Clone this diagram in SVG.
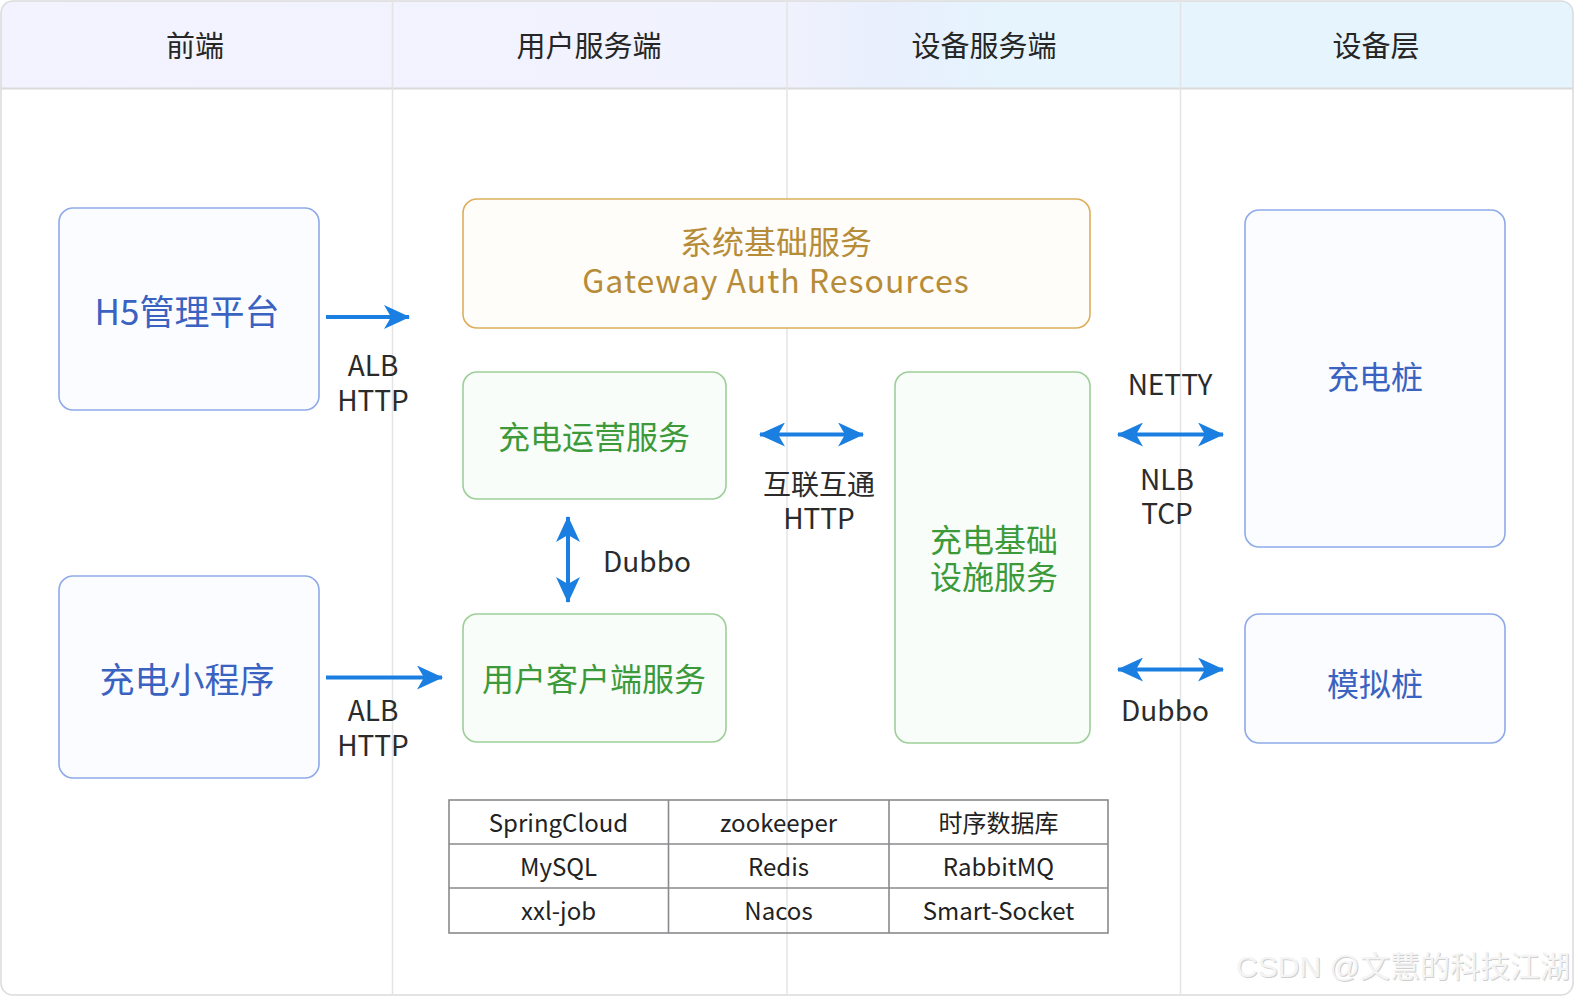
<svg xmlns="http://www.w3.org/2000/svg" width="1574" height="997" viewBox="0 0 1574 997">
<style>
text{font-family:"Noto Sans CJK SC","Noto Sans",sans-serif;text-anchor:middle;dominant-baseline:central}
.hd{font-size:29px;fill:#262626}
.blue rect{fill:#fbfcff;stroke:#8eaae8;stroke-width:1.6}
.blue text{fill:#3a62c0;font-size:35px}
.blue text.s{font-size:32px}
.green rect{fill:#f9fdf9;stroke:#9dcf98;stroke-width:1.6}
.green text{fill:#3c9a3a;font-size:32px}
.gold rect{fill:#fffdf9;stroke:#dcae5c;stroke-width:1.6}
.gold text{fill:#b68c38;font-size:32px}
.lbl{font-size:28px;fill:#2b2b2b}
.conn line{stroke:#1a7fe0;stroke-width:4}
.tbl line,.tbl rect{stroke:#8a8a8e;stroke-width:1.6;fill:none}
.tbl text{font-size:24px;fill:#222}
.div{stroke:#e4e4e4;stroke-width:1.5}
</style>
<defs>
<linearGradient id="hg" x1="0" y1="0" x2="1" y2="0">
<stop offset="0" stop-color="#f2f3fe"/>
<stop offset="0.5" stop-color="#f0f2fd"/>
<stop offset="0.56" stop-color="#e9effd"/>
<stop offset="0.64" stop-color="#e5f4fd"/>
<stop offset="1" stop-color="#e5f4fd"/>
</linearGradient>
<marker id="ah" viewBox="0 0 26 24" refX="25" refY="12" markerWidth="26" markerHeight="24" markerUnits="userSpaceOnUse" orient="auto-start-reverse">
<path d="M0,0 L26,12 L0,24 L7,12 Z" fill="#1a7fe0"/>
</marker>
</defs>
<rect x="0" y="0" width="1574" height="997" fill="#ffffff"/>
<g id="frame">
<path d="M1,88.5 V13 Q1,1 13,1 H1561 Q1573,1 1573,13 V88.5 Z" fill="url(#hg)"/>
<rect x="1" y="1" width="1572" height="994" rx="12" fill="none" stroke="#dcdcdc" stroke-width="1.6"/>
<line x1="1" y1="88.5" x2="1573" y2="88.5" stroke="#dadada" stroke-width="2"/>
<line class="div" x1="392.5" y1="1" x2="392.5" y2="995"/>
<line class="div" x1="787" y1="1" x2="787" y2="995"/>
<line class="div" x1="1180.5" y1="1" x2="1180.5" y2="995"/>
<text class="hd" x="195" y="44">前端</text>
<text class="hd" x="589" y="44">用户服务端</text>
<text class="hd" x="984" y="44">设备服务端</text>
<text class="hd" x="1376" y="44">设备层</text>
</g>
<g id="n-h5" class="blue">
<rect x="59" y="208" width="260" height="202" rx="14"/>
<text x="187" y="309">H5管理平台</text>
</g>
<g id="n-mini" class="blue">
<rect x="59" y="576" width="260" height="202" rx="14"/>
<text x="187" y="677">充电小程序</text>
</g>
<g id="n-sys" class="gold">
<rect x="463" y="199" width="627" height="129" rx="14"/>
<text x="776" y="240">系统基础服务</text>
<text x="776" y="279" style="letter-spacing:1px">Gateway Auth Resources</text>
</g>
<g id="n-ops" class="green">
<rect x="463" y="372" width="263" height="127" rx="14"/>
<text x="594" y="435">充电运营服务</text>
</g>
<g id="n-client" class="green">
<rect x="463" y="614" width="263" height="128" rx="14"/>
<text x="594" y="677">用户客户端服务</text>
</g>
<g id="n-infra" class="green">
<rect x="895" y="372" width="195" height="371" rx="14"/>
<text x="994" y="538">充电基础</text>
<text x="994" y="575">设施服务</text>
</g>
<g id="n-pile" class="blue">
<rect x="1245" y="210" width="260" height="337" rx="14"/>
<text class="s" x="1375" y="375">充电桩</text>
</g>
<g id="n-sim" class="blue">
<rect x="1245" y="614" width="260" height="129" rx="14"/>
<text class="s" x="1375" y="682">模拟桩</text>
</g>
<g id="connectors" class="conn">
<line x1="326" y1="317" x2="409" y2="317" marker-end="url(#ah)"/>
<line x1="326" y1="677.5" x2="442" y2="677.5" marker-end="url(#ah)"/>
<line x1="568" y1="517" x2="568" y2="602" marker-start="url(#ah)" marker-end="url(#ah)"/>
<line x1="760" y1="434.5" x2="863" y2="434.5" marker-start="url(#ah)" marker-end="url(#ah)"/>
<line x1="1118" y1="434.5" x2="1223" y2="434.5" marker-start="url(#ah)" marker-end="url(#ah)"/>
<line x1="1118" y1="669.5" x2="1223" y2="669.5" marker-start="url(#ah)" marker-end="url(#ah)"/>
</g>
<g id="labels">
<text class="lbl" x="373" y="364">ALB</text>
<text class="lbl" x="373" y="399">HTTP</text>
<text class="lbl" x="373" y="709">ALB</text>
<text class="lbl" x="373" y="744">HTTP</text>
<text class="lbl" x="647" y="560">Dubbo</text>
<text class="lbl" x="819" y="483">互联互通</text>
<text class="lbl" x="819" y="517">HTTP</text>
<text class="lbl" x="1170" y="383">NETTY</text>
<text class="lbl" x="1167" y="478">NLB</text>
<text class="lbl" x="1167" y="512">TCP</text>
<text class="lbl" x="1165" y="709">Dubbo</text>
</g>
<g id="tech-table" class="tbl">
<rect x="449" y="800" width="659" height="133" fill="#ffffff"/>
<line x1="449" y1="844" x2="1108" y2="844"/>
<line x1="449" y1="888" x2="1108" y2="888"/>
<line x1="668.5" y1="800" x2="668.5" y2="933"/>
<line x1="889" y1="800" x2="889" y2="933"/>
<text x="558.5" y="821">SpringCloud</text>
<text x="778.5" y="821">zookeeper</text>
<text x="998.5" y="821">时序数据库</text>
<text x="558.5" y="865">MySQL</text>
<text x="778.5" y="865">Redis</text>
<text x="998.5" y="865">RabbitMQ</text>
<text x="558.5" y="909">xxl-job</text>
<text x="778.5" y="909">Nacos</text>
<text x="998.5" y="909">Smart-Socket</text>
</g>
<g id="watermark">
<text x="1404" y="967" style="font-family:'Liberation Sans','Noto Sans CJK SC',sans-serif;font-size:30px;fill:#cfcfcf">CSDN @文慧的科技江湖</text>
<text x="1403" y="966" style="font-family:'Liberation Sans','Noto Sans CJK SC',sans-serif;font-size:30px;fill:#f4f4f4">CSDN @文慧的科技江湖</text>
</g>
</svg>
